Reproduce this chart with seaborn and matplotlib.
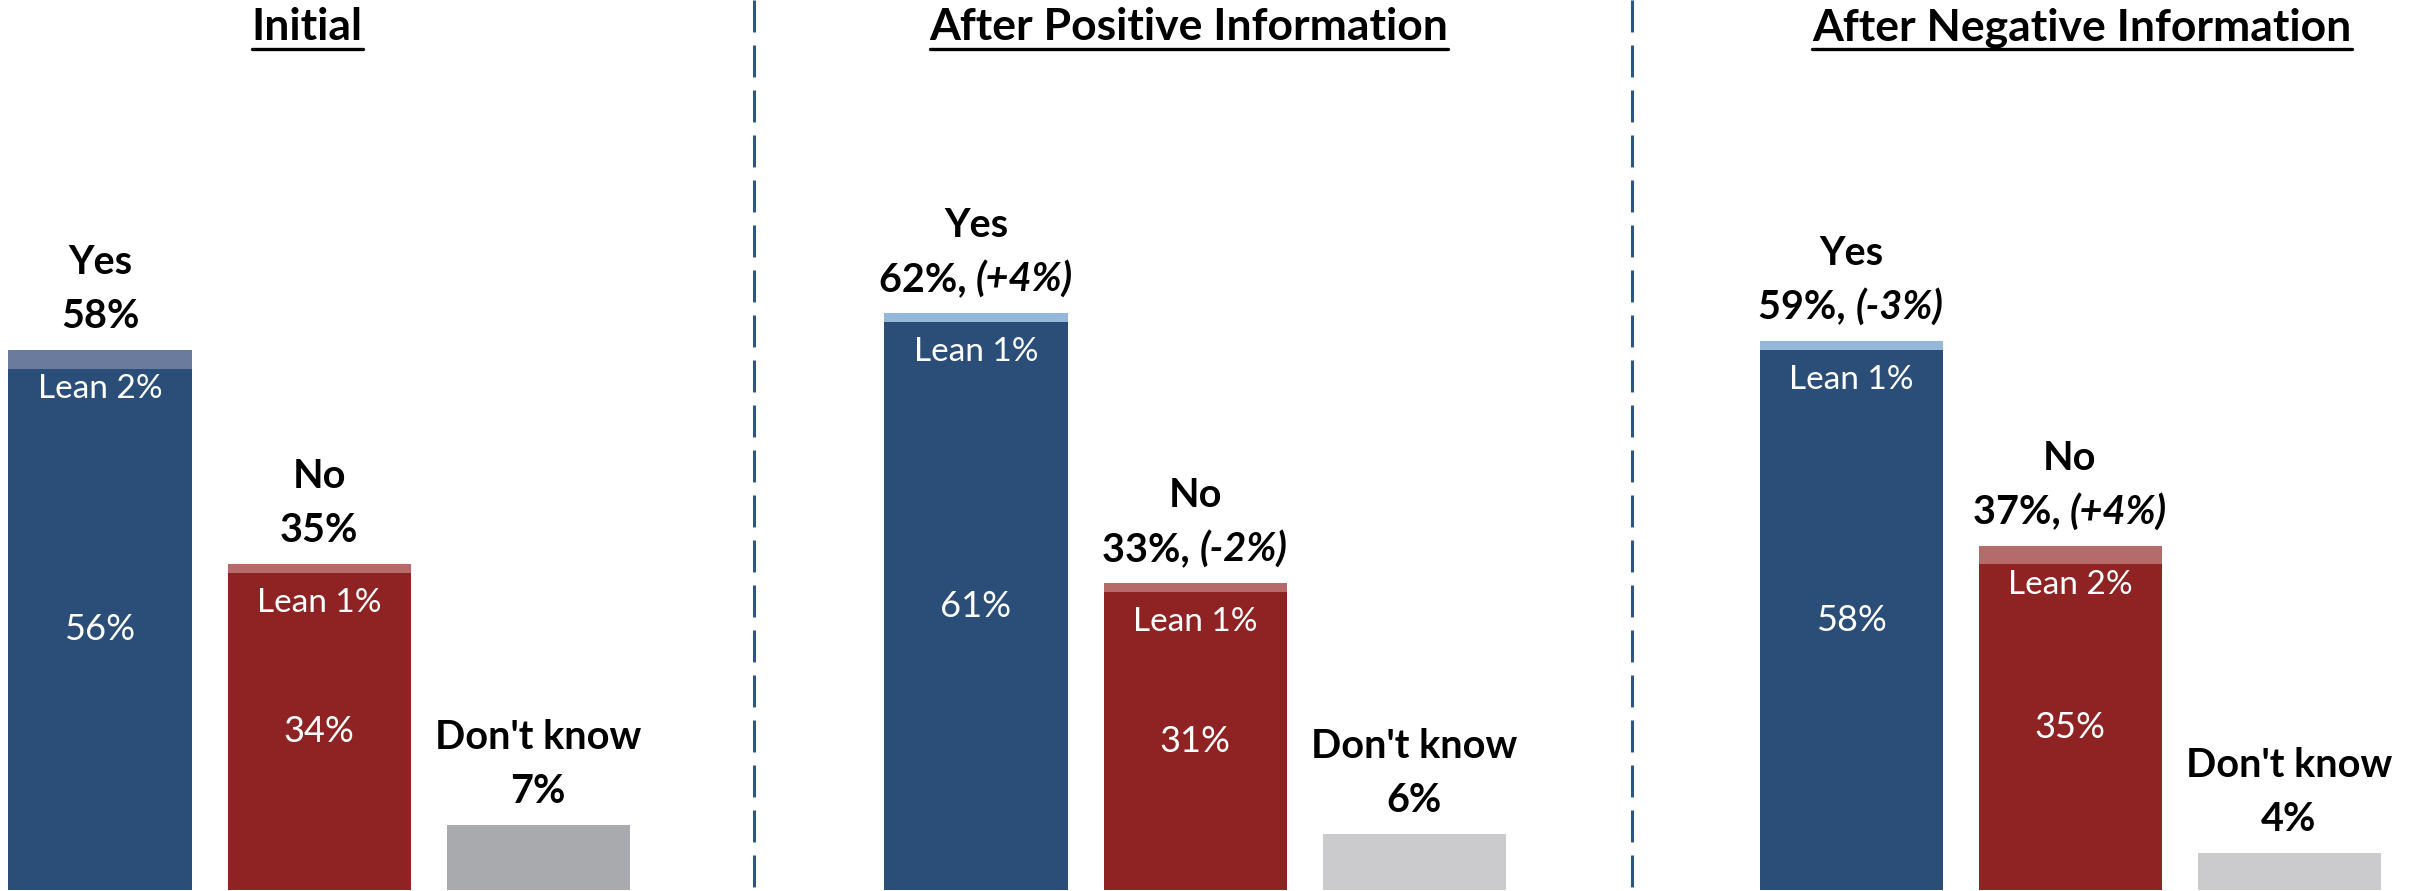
import matplotlib
matplotlib.use("Agg")
import matplotlib.pyplot as plt
from matplotlib.lines import Line2D
import seaborn as sns
import pandas as pd

# ---------------- data ----------------
panels = ["Initial", "After Positive Information", "After Negative Information"]
categories = ["Yes", "No", "Don't know"]
yes_total = [58, 62, 59]
yes_lean = [2, 1, 1]
yes_firm = [56, 61, 58]
no_total = [35, 33, 37]
no_lean = [1, 1, 2]
no_firm = [34, 31, 35]
dk_total = [7, 6, 4]
yes_change = [None, "+4%", "-3%"]
no_change = [None, "-2%", "+4%"]

# ---------------- style ----------------
sns.set_style("white")
plt.rcParams['font.family'] = ['Lato', 'DejaVu Sans']

W, H, DPI = 2414, 891, 100
fig = plt.figure(figsize=(W / DPI, H / DPI), dpi=DPI)
fig.patch.set_facecolor("white")

YES_C = "#2A4E77"
NO_C = "#8F2323"
YES_LEAN_C = ["#6B7B9E", "#95B7DA", "#95B7DA"]
NO_LEAN_C = ["#B46B69", "#B46B69", "#B46B69"]
DK_C = ["#A9AAAD", "#CBCBCD", "#CBCBCD"]

centers_px = [100, 976, 1851]
unit_px = 219.0
px_per_pct = 9.31
base_px = 1.0  # pixel distance of value 0 from the bottom
title_cx = [307, 1189, 2082]
divider_x = [754, 1632]

renderer = fig.canvas.get_renderer()

for p in range(3):
    ax = fig.add_axes([0, 0, 1, 1])
    ax.patch.set_alpha(0)
    totals = [yes_total[p], no_total[p], dk_total[p]]
    firm_h = [yes_total[p] - yes_lean[p], no_total[p] - no_lean[p], dk_total[p]]
    df = pd.DataFrame({"cat": categories, "total": totals, "firm": firm_h})
    lean_pal = {"Yes": YES_LEAN_C[p], "No": NO_LEAN_C[p], "Don't know": DK_C[p]}
    firm_pal = {"Yes": YES_C, "No": NO_C, "Don't know": DK_C[p]}
    sns.barplot(data=df, x="cat", y="total", hue="cat", palette=lean_pal,
                order=categories, hue_order=categories, width=183 / unit_px,
                saturation=1, legend=False, ax=ax, linewidth=0)
    sns.barplot(data=df, x="cat", y="firm", hue="cat", palette=firm_pal,
                order=categories, hue_order=categories, width=183 / unit_px,
                saturation=1, legend=False, ax=ax, linewidth=0)
    c0 = centers_px[p]
    ax.set_xlim(-c0 / unit_px, (W - c0) / unit_px)
    ax.set_ylim(-base_px / px_per_pct, (H - base_px) / px_per_pct)
    ax.axis("off")

    # header labels above bars
    changes = [yes_change[p], no_change[p], None]
    fs = 28.5
    for i, (cat, tot) in enumerate(zip(categories, totals)):
        ax.annotate(cat, xy=(i, tot), xytext=(0, 76), textcoords="offset pixels",
                    ha="center", va="baseline", fontsize=fs, fontweight="bold",
                    color="black")
        if changes[i] is None:
            ax.annotate(f"{tot}%", xy=(i, tot), xytext=(0, 22),
                        textcoords="offset pixels", ha="center", va="baseline",
                        fontsize=fs, fontweight="bold", color="black")
        else:
            t1 = ax.annotate(f"{tot}%, ", xy=(i, tot), xytext=(0, 22),
                             textcoords="offset pixels", ha="left", va="baseline",
                             fontsize=fs, fontweight="bold", color="black")
            t2 = ax.annotate(f"({changes[i]})", xy=(i, tot), xytext=(0, 22),
                             textcoords="offset pixels", ha="left", va="baseline",
                             fontsize=fs, fontweight="bold", style="italic",
                             color="black")
            w1 = t1.get_window_extent(renderer).width
            w2 = t2.get_window_extent(renderer).width
            start = -(w1 + w2) / 2
            t1.set_position((start, 22))
            t2.set_position((start + w1, 22))

    # inner white labels
    leans = [yes_lean[p], no_lean[p]]
    firms = [yes_firm[p], no_firm[p]]
    for i in range(2):
        tot = totals[i]
        ax.annotate(f"Lean {leans[i]}%", xy=(i, tot), xytext=(0, -48),
                    textcoords="offset pixels", ha="center", va="baseline",
                    fontsize=24, color="white")
        ax.text(i, firm_h[i] / 2, f"{firms[i]}%", ha="center", va="center",
                fontsize=26, color="white")

# titles with underline
for p in range(3):
    ty = (H - 40) / H
    t = fig.text(title_cx[p] / W, ty, panels[p], ha="center", va="baseline",
                 fontsize=32, fontweight="bold", color="black")
    bb = t.get_window_extent(renderer)
    uy = (H - 49) / H
    fig.add_artist(Line2D([bb.x0 / W, bb.x1 / W], [uy, uy], color="black",
                          linewidth=2.4, transform=fig.transFigure))

# dashed dividers
lw = 2.2
for x in divider_x:
    fig.add_artist(Line2D([x / W, x / W], [1, 0], color="#2E5585", linewidth=lw,
                          linestyle=(0, (23 / lw, 9.4 / lw)),
                          transform=fig.transFigure))

fig.savefig("out.png", dpi=DPI, facecolor="white")
